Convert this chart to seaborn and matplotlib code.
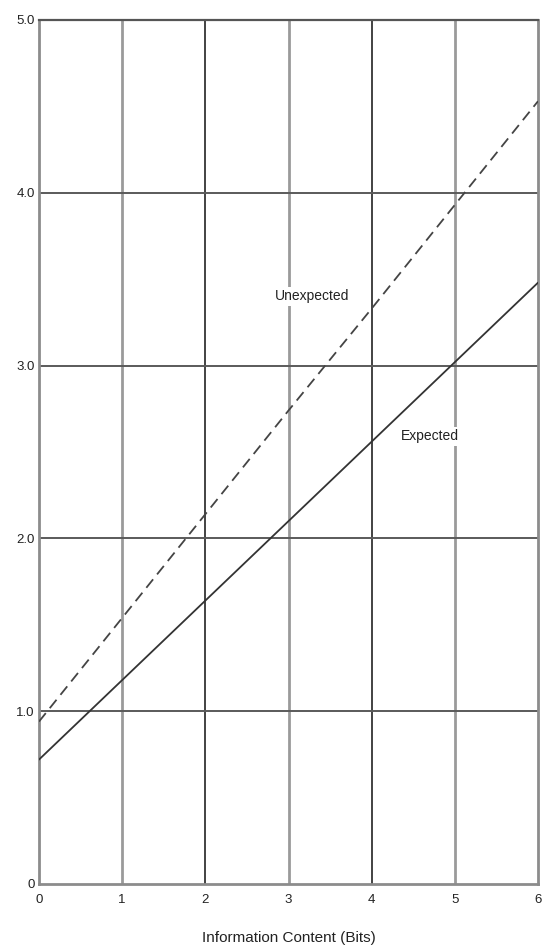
import matplotlib
matplotlib.use("Agg")
import matplotlib.pyplot as plt
import seaborn as sns
import pandas as pd

bits = [0, 1, 2, 3, 4, 5, 6]
expected = [0.72, 1.18, 1.64, 2.10, 2.56, 3.02, 3.48]
unexpected = [0.94, 1.54, 2.14, 2.74, 3.33, 3.93, 4.53]
y_ticks = [0, 1, 2, 3, 4, 5]
y_tick_labels = ["0", "1.0", "2.0", "3.0", "4.0", "5.0"]
x_ticks = [0, 1, 2, 3, 4, 5, 6]

sns.set_style("white")
plt.rcParams["font.family"] = ["Liberation Sans", "DejaVu Sans"]

df = pd.DataFrame({
    "bits": bits * 2,
    "time": expected + unexpected,
    "kind": ["Expected"] * len(bits) + ["Unexpected"] * len(bits),
})

fig = plt.figure(figsize=(5.44, 9.52), dpi=100)
ax = fig.add_axes([39 / 544, 68 / 952, 499 / 544, 864 / 952])

# grid: light vertical lines at odd bits, dark at even bits
for xv in x_ticks[1:-1]:
    if xv % 2 == 0:
        ax.axvline(xv, color="#222222", lw=1.2, zorder=1)
    else:
        ax.axvline(xv, color="#9a9a9a", lw=2.0, zorder=1)
for yv in y_ticks[1:-1]:
    ax.axhline(yv, color="#5a5a5a", lw=1.4, zorder=1)

sns.lineplot(data=df, x="bits", y="time", hue="kind", style="kind",
             palette={"Expected": "#333333", "Unexpected": "#444444"},
             dashes={"Expected": "", "Unexpected": (6, 3.5)},
             linewidth=1.3, legend=False, ax=ax, zorder=3)

ax.set_xlim(0, 6)
ax.set_ylim(0, 5)
ax.set_xticks(x_ticks)
ax.set_xticklabels([str(v) for v in x_ticks], fontsize=9.5, color="#222222")
ax.set_yticks(y_ticks)
ax.set_yticklabels(y_tick_labels, fontsize=9.5, color="#222222")
ax.tick_params(axis="x", length=0, pad=7)
ax.tick_params(axis="y", length=0, pad=3)
ax.set_xlabel("Information Content (Bits)", fontsize=11, color="#222222", labelpad=18)
ax.set_ylabel("")

for side in ["left", "bottom", "right"]:
    ax.spines[side].set_color("#8c8c8c")
    ax.spines[side].set_linewidth(2.0)
ax.spines["top"].set_color("#555555")
ax.spines["top"].set_linewidth(1.6)

box = dict(facecolor="white", edgecolor="none", pad=1.5)
ax.text(3.28, 3.40, "Unexpected", fontsize=10, ha="center", va="center",
        color="#222222", bbox=box, zorder=4)
ax.text(4.70, 2.59, "Expected", fontsize=10, ha="center", va="center",
        color="#222222", bbox=box, zorder=4)

fig.savefig("out.png", dpi=100)
